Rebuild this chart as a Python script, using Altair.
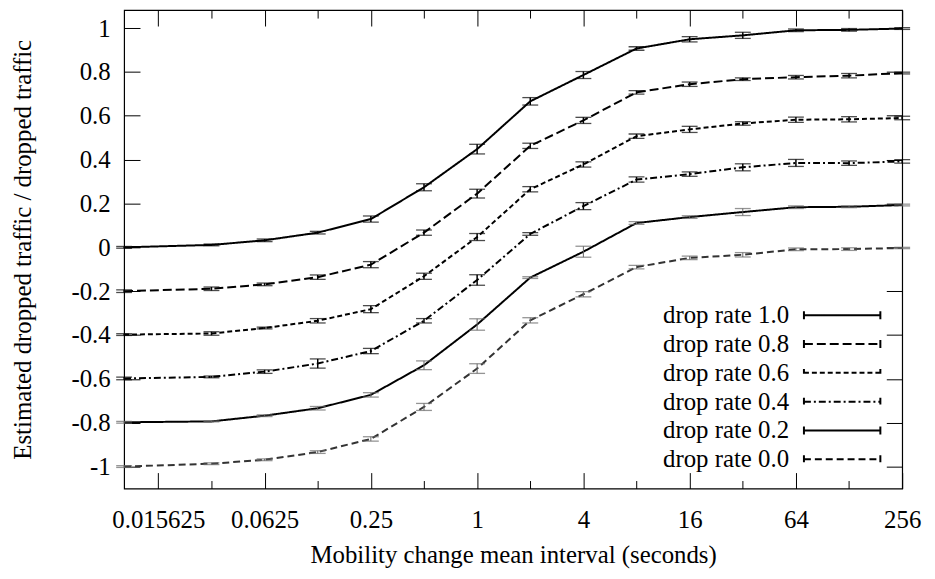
import altair as alt
import pandas as pd

# Mobility change mean interval (seconds)
interval = [0.01, 0.03125, 0.0625, 0.125, 0.25, 0.5, 1, 2, 4, 8, 16, 32, 64, 128, 256]

series_names = ["drop rate 1.0", "drop rate 0.8", "drop rate 0.6",
                "drop rate 0.4", "drop rate 0.2", "drop rate 0.0"]

rate_10 = [0.0, 0.011, 0.032, 0.067, 0.129, 0.274, 0.448, 0.666, 0.786, 0.907, 0.949, 0.967, 0.990, 0.992, 0.998]
err_10 = [0.004, 0.004, 0.006, 0.006, 0.014, 0.016, 0.022, 0.017, 0.016, 0.008, 0.012, 0.014, 0.006, 0.006, 0.004]

rate_08 = [-0.200, -0.189, -0.169, -0.136, -0.079, 0.067, 0.245, 0.463, 0.579, 0.707, 0.744, 0.767, 0.776, 0.783, 0.795]
err_08 = [0.006, 0.008, 0.006, 0.010, 0.014, 0.012, 0.020, 0.012, 0.014, 0.008, 0.010, 0.006, 0.008, 0.010, 0.004]

rate_06 = [-0.398, -0.393, -0.368, -0.335, -0.282, -0.132, 0.047, 0.265, 0.378, 0.507, 0.538, 0.565, 0.582, 0.584, 0.590]
err_06 = [0.004, 0.008, 0.004, 0.010, 0.016, 0.014, 0.016, 0.012, 0.012, 0.010, 0.014, 0.008, 0.012, 0.012, 0.008]

rate_04 = [-0.598, -0.591, -0.567, -0.530, -0.473, -0.335, -0.149, 0.061, 0.188, 0.309, 0.334, 0.365, 0.385, 0.384, 0.392]
err_04 = [0.006, 0.004, 0.008, 0.021, 0.012, 0.010, 0.024, 0.006, 0.016, 0.012, 0.010, 0.016, 0.016, 0.010, 0.008]

rate_02 = [-0.798, -0.794, -0.768, -0.734, -0.673, -0.538, -0.352, -0.138, -0.020, 0.111, 0.138, 0.161, 0.183, 0.185, 0.193]
err_02 = [0.004, 0.002, 0.004, 0.008, 0.010, 0.020, 0.026, 0.004, 0.025, 0.006, 0.006, 0.016, 0.006, 0.004, 0.004]

rate_00 = [-1.000, -0.987, -0.969, -0.934, -0.874, -0.728, -0.553, -0.333, -0.214, -0.090, -0.048, -0.034, -0.009, -0.008, -0.003]
err_00 = [0.004, 0.004, 0.004, 0.006, 0.010, 0.016, 0.022, 0.012, 0.012, 0.008, 0.008, 0.010, 0.006, 0.006, 0.003]

x_major = [0.015625, 0.0625, 0.25, 1, 4, 16, 64, 256]
x_minor = [0.03125, 0.125, 0.5, 2, 8, 32, 128]
y_ticks = [-1, -0.8, -0.6, -0.4, -0.2, 0, 0.2, 0.4, 0.6, 0.8, 1]

rates = [rate_10, rate_08, rate_06, rate_04, rate_02, rate_00]
errs = [err_10, err_08, err_06, err_04, err_02, err_00]

rows = []
for name, vals, es in zip(series_names, rates, errs):
    for xv, v, e in zip(interval, vals, es):
        rows.append({"series": name, "label": name, "interval": xv,
                     "value": v, "lo": v - e, "hi": v + e})
df = pd.DataFrame(rows)

FONT = "Liberation Serif"
FS = 25

xs = alt.Scale(type="log", base=2, domain=[0.01, 256], nice=False)
ys = alt.Scale(domain=[-1.1, 1.082], nice=False, zero=False)

dash_range = [[1, 0], [9, 4], [5, 3], [7, 3, 2, 3], [1, 0], [7, 4]]
width_range = [2, 2, 2, 2, 1, 1]
color_range = ["#000000", "#000000", "#000000", "#000000", "#000000", "#333333"]

# legend with the line samples (texts empty)
sample_legend = alt.Legend(
    title=None, orient="none", legendX=711, legendY=295,
    symbolType="M-7.7,-0.8L-7.7,0.8M-7.7,0L7.7,0M7.7,-0.8L7.7,0.8",
    symbolSize=100, symbolStrokeColor="black", symbolFillColor="transparent",
    labelFont=FONT, labelFontSize=FS, labelOpacity=0, labelExpr="''",
    rowPadding=3, padding=0,
)
# legend with the texts (symbols hidden), right aligned before the samples
text_legend = alt.Legend(
    title=None, orient="none", legendX=645, legendY=295,
    symbolSize=100, symbolOpacity=0,
    labelFont=FONT, labelFontSize=FS, labelColor="black",
    labelAlign="right", labelOffset=0, labelLimit=400,
    rowPadding=3, padding=0,
)

thin_test = "indexof(['drop rate 0.2', 'drop rate 0.0'], datum.series) >= 0"

base = alt.Chart(df)

lines = base.mark_line().encode(
    x=alt.X("interval:Q", scale=xs, axis=alt.Axis(
        orient="bottom", values=x_major, labelExpr="'' + datum.value",
        offset=-16, tickSize=16, labelPadding=19, labelFlush=False, labelOverlap=False,
        title="Mobility change mean interval (seconds)", titlePadding=11)),
    y=alt.Y("value:Q", scale=ys, axis=alt.Axis(
        orient="left", values=y_ticks, labelExpr="'' + datum.value",
        offset=-16, tickSize=16, labelPadding=14, labelFlush=False, labelOverlap=False,
        title="Estimated dropped traffic / dropped traffic", titlePadding=36)),
    strokeDash=alt.StrokeDash("series:O", scale=alt.Scale(domain=series_names, range=dash_range), legend=sample_legend),
    strokeWidth=alt.StrokeWidth("series:O", scale=alt.Scale(domain=series_names, range=width_range), legend=sample_legend),
    color=alt.Color("label:N", sort="descending", scale=alt.Scale(range=color_range), legend=text_legend),
)

rules = base.mark_rule().encode(
    x=alt.X("interval:Q", scale=xs, axis=alt.Axis(
        orient="top", values=x_major, labels=False, offset=-16, tickSize=16, title=None)),
    y=alt.Y("lo:Q", scale=ys, axis=alt.Axis(
        orient="right", values=y_ticks, labels=False, offset=-16, tickSize=16, title=None)),
    y2="hi:Q",
    color=alt.condition(thin_test, alt.value("#666666"), alt.value("black")),
    strokeWidth=alt.condition(thin_test, alt.value(1), alt.value(1.5)),
)

caps_lo = base.mark_tick(orient="horizontal", size=16, thickness=1.3).encode(
    x=alt.X("interval:Q", scale=xs, axis=alt.Axis(
        orient="bottom", values=x_minor, labels=False, offset=-8, tickSize=8, title=None)),
    y=alt.Y("lo:Q", scale=ys, axis=None),
    color=alt.condition(thin_test, alt.value("#666666"), alt.value("black")),
)

caps_hi = base.mark_tick(orient="horizontal", size=16, thickness=1.3).encode(
    x=alt.X("interval:Q", scale=xs, axis=alt.Axis(
        orient="top", values=x_minor, labels=False, offset=-8, tickSize=8, title=None)),
    y=alt.Y("hi:Q", scale=ys, axis=None),
    color=alt.condition(thin_test, alt.value("#666666"), alt.value("black")),
)

chart = alt.layer(lines, rules, caps_lo, caps_hi).resolve_axis(
    x="independent", y="independent"
).properties(
    width=784, height=482,
    autosize=alt.AutoSizeParams(type="none"),
    padding={"left": 117, "top": 0, "right": 25, "bottom": 81},
).configure_axis(
    labelFont=FONT, titleFont=FONT, labelFontSize=FS, titleFontSize=FS,
    labelColor="black", titleColor="black", titleFontWeight="normal",
    tickColor="black", tickWidth=1, domain=False, grid=False,
).configure_view(stroke="black", strokeWidth=1.2)

chart.save("out.html", embed_options={"renderer": "svg", "actions": False})
